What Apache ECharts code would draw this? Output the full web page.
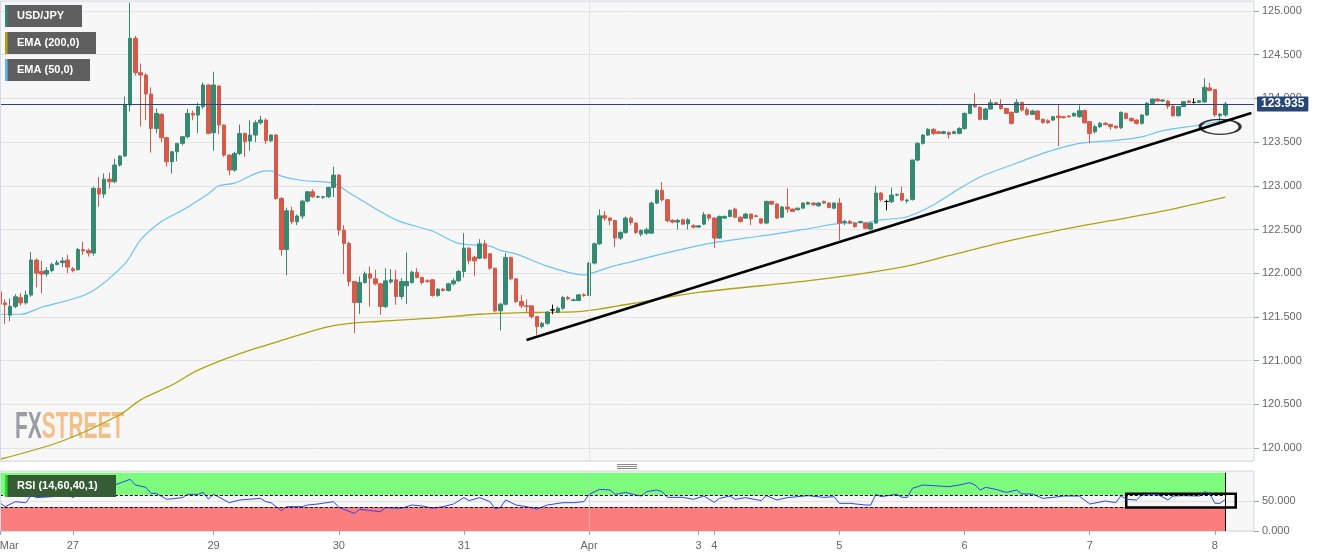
<!DOCTYPE html>
<html><head><meta charset="utf-8">
<script src="https://cdn.jsdelivr.net/npm/echarts@6/dist/echarts.min.js"></script>
<style>html,body{margin:0;padding:0;background:#fff}#c{width:1331px;height:558px}</style>
</head><body><div id="c"></div>
<script>
// Hourly trading sessions (GMT): [date, first hour, last hour]
const sessions = [['03-25',7,20],['03-27',21,23],['03-28',0,23],['03-29',0,23],['03-30',0,23],['03-31',0,23],
  ['04-01',0,20],['04-03',21,23],['04-04',0,23],['04-05',0,23],['04-06',0,23],['04-07',0,23],['04-08',0,2]];
const padCats = ['+1','+2','+3','+4','+5'];
const tickCats = ['03-25 07','03-27 21','03-29 00','03-30 00','03-31 00','04-01 00','04-03 21','04-04 00','04-05 00','04-06 00','04-07 00','04-08 00'];
const tickTexts = ['Mar','27','29','30','31','Apr','3','4','5','6','7','8'];
const priceTicks = [120,120.5,121,121.5,122,122.5,123,123.5,124,124.5,125];
const lastPrice = 123.935;

// [open, close, low, high]
const candles = [
[121.786,121.645,121.63,121.863],[121.66,121.64,121.42,121.70],[121.52,121.62,121.45,121.71],[121.62,121.73,121.60,121.76],
[121.72,121.66,121.63,121.77],[121.66,121.75,121.64,121.80],[121.75,122.15,121.73,122.24],[122.15,122.00,121.84,122.17],
[122.02,121.99,121.77,122.14],[121.99,122.03,121.96,122.07],[122.03,122.10,122.01,122.12],[122.10,122.12,122.09,122.15],
[122.12,122.14,122.07,122.18],[122.15,122.07,122.00,122.21],[122.05,122.03,122.01,122.07],[122.04,122.27,122.03,122.29],
[122.27,122.255,122.21,122.36],[122.26,122.23,122.19,122.28],[122.23,122.97,122.20,122.99],[122.97,122.905,122.76,123.10],
[122.905,123.076,122.86,123.14],[123.076,123.046,122.97,123.15],[123.046,123.237,123.03,123.31],[123.237,123.34,123.22,123.35],
[123.34,123.924,123.33,124.02],[123.924,124.687,123.85,125.095],[124.687,124.294,124.26,124.714],[124.294,124.267,123.676,124.40],
[124.267,124.05,123.75,124.286],[124.05,123.656,123.38,124.126],[123.656,123.828,123.60,123.885],[123.817,123.55,123.50,123.83],
[123.55,123.275,123.22,123.56],[123.275,123.389,123.14,123.40],[123.389,123.485,123.28,123.49],[123.485,123.561,123.46,123.57],
[123.561,123.828,123.54,123.88],[123.828,123.809,123.75,123.86],[123.809,123.905,123.60,123.95],[123.905,124.153,123.88,124.18],
[124.153,123.599,123.59,124.16],[123.607,124.153,123.40,124.305],[124.141,123.695,123.59,124.15],[123.695,123.351,123.33,123.70],
[123.351,123.179,123.12,123.36],[123.179,123.37,123.16,123.39],[123.37,123.599,123.35,123.70],[123.599,123.504,123.33,123.61],
[123.511,123.58,123.40,123.75],[123.58,123.721,123.50,123.75],[123.721,123.752,123.70,123.80],[123.752,123.515,123.48,123.77],
[123.515,123.58,123.50,123.59],[123.58,122.855,122.84,123.59],[122.855,122.271,122.20,122.87],[122.271,122.714,121.977,122.75],
[122.714,122.588,122.56,122.76],[122.588,122.653,122.55,122.67],[122.653,122.824,122.62,122.84],[122.824,122.931,122.81,122.94],
[122.931,122.874,122.86,122.96],[122.870,122.875,122.86,122.89],[122.870,122.874,122.85,122.88],[122.874,122.981,122.86,122.99],
[122.981,123.122,122.87,123.218],[123.122,122.492,122.43,123.13],[122.492,122.34,121.99,122.55],[122.34,121.905,121.85,122.36],
[121.905,121.664,121.313,121.91],[121.664,121.893,121.534,121.962],[121.893,121.992,121.88,122.019],[121.992,121.943,121.618,122.076],
[121.935,121.878,121.86,122.038],[121.878,121.618,121.523,121.89],[121.618,121.912,121.60,122.057],[121.90,121.924,121.88,122.046],
[121.924,121.733,121.637,122.038],[121.733,121.905,121.70,121.943],[121.855,121.905,121.649,122.237],[121.893,122.011,121.88,122.03],
[122.011,121.950,121.94,122.057],[121.950,121.893,121.87,121.96],[121.912,121.905,121.89,121.93],[121.924,121.744,121.73,121.93],
[121.744,121.817,121.73,121.83],[121.817,121.802,121.79,121.83],[121.802,121.878,121.79,121.89],[121.878,121.912,121.86,121.94],
[121.912,122.019,121.90,122.04],[122.019,122.286,121.95,122.458],[122.286,122.141,122.10,122.30],[122.183,122.141,121.969,122.20],
[122.172,122.336,122.16,122.389],[122.336,122.172,122.16,122.382],[122.221,122.057,122.04,122.23],[122.057,121.569,121.55,122.06],
[121.569,121.645,121.344,121.66],[121.645,122.179,121.63,122.229],[122.179,121.935,121.92,122.19],[121.935,121.676,121.66,121.94],
[121.676,121.626,121.60,121.75],[121.626,121.618,121.55,121.70],[121.626,121.504,121.48,121.63],[121.504,121.389,121.294,121.51],
[121.389,121.427,121.37,121.44],[121.427,121.553,121.41,121.57],[121.58,121.58,121.53,121.64],[121.553,121.599,121.54,121.62],
[121.599,121.721,121.58,121.74],[121.721,121.706,121.69,121.74],[121.687,121.695,121.68,121.71],[121.687,121.752,121.68,121.76],
[121.752,121.744,121.73,121.77],[121.744,122.115,121.74,122.13],[122.115,122.336,122.10,122.35],[122.336,122.656,122.32,122.73],
[122.656,122.630,122.60,122.71],[122.630,122.603,122.55,122.64],[122.603,122.401,122.30,122.61],[122.401,122.466,122.38,122.48],
[122.466,122.630,122.45,122.65],[122.630,122.580,122.55,122.65],[122.573,122.466,122.45,122.58],[122.447,122.489,122.42,122.50],
[122.458,122.496,122.44,122.52],[122.458,122.802,122.45,122.82],[122.802,122.947,122.79,122.96],[122.947,122.84,122.82,123.042],
[122.84,122.60,122.58,122.85],[122.603,122.585,122.57,122.62],[122.585,122.603,122.50,122.62],[122.611,122.561,122.55,122.62],
[122.565,122.611,122.50,122.63],[122.542,122.527,122.51,122.56],[122.527,122.542,122.52,122.55],[122.561,122.668,122.55,122.70],
[122.668,122.630,122.60,122.68],[122.630,122.401,122.288,122.64],[122.401,122.649,122.39,122.66],[122.630,122.649,122.62,122.66],
[122.649,122.718,122.64,122.73],[122.733,122.641,122.63,122.75],[122.641,122.592,122.58,122.65],[122.630,122.676,122.62,122.69],
[122.676,122.622,122.55,122.68],[122.656,122.649,122.64,122.67],[122.622,122.573,122.56,122.63],[122.573,122.821,122.56,122.83],
[122.821,122.790,122.78,122.83],[122.790,122.630,122.62,122.80],[122.641,122.756,122.63,122.77],[122.756,122.733,122.69,122.973],
[122.733,122.706,122.70,122.74],[122.725,122.744,122.72,122.75],[122.744,122.802,122.74,122.81],[122.790,122.809,122.78,122.82],
[122.802,122.782,122.77,122.81],[122.771,122.802,122.76,122.81],[122.821,122.802,122.79,122.83],[122.802,122.752,122.74,122.81],
[122.744,122.802,122.73,122.81],[122.802,122.573,122.382,122.859],[122.580,122.592,122.55,122.61],[122.592,122.573,122.56,122.61],
[122.573,122.534,122.52,122.58],[122.580,122.592,122.57,122.60],[122.573,122.515,122.50,122.58],[122.504,122.573,122.49,122.58],
[122.573,122.916,122.56,123.00],[122.916,122.840,122.82,122.93],[122.82,122.82,122.72,122.84],[122.817,122.893,122.80,122.98],
[122.893,122.901,122.88,122.91],[122.912,122.836,122.82,122.99],[122.828,122.836,122.80,122.85],[122.844,123.294,122.83,123.30],
[123.294,123.485,123.28,123.50],[123.485,123.580,123.47,123.59],[123.580,123.645,123.57,123.66],[123.645,123.599,123.58,123.66],
[123.618,123.599,123.59,123.63],[123.599,123.618,123.59,123.63],[123.611,123.588,123.54,123.62],[123.599,123.618,123.59,123.63],
[123.599,123.656,123.59,123.67],[123.656,123.828,123.64,123.84],[123.828,123.924,123.82,123.94],[123.924,123.905,123.89,124.057],
[123.897,123.760,123.75,123.91],[123.760,123.878,123.75,123.89],[123.878,123.950,123.87,123.99],[123.950,123.935,123.92,123.96],
[123.924,123.885,123.87,123.99],[123.885,123.828,123.82,123.89],[123.840,123.714,123.70,123.85],[123.840,123.954,123.83,123.99],
[123.954,123.866,123.85,123.96],[123.870,123.817,123.80,123.90],[123.817,123.855,123.81,123.87],[123.855,123.760,123.75,123.86],
[123.760,123.725,123.71,123.77],[123.744,123.721,123.71,123.76],[123.752,123.790,123.74,123.80],[123.798,123.779,123.454,123.93],
[123.790,123.779,123.77,123.80],[123.798,123.790,123.78,123.81],[123.798,123.828,123.79,123.84],[123.790,123.859,123.78,123.92],
[123.859,123.721,123.71,123.87],[123.733,123.599,123.485,123.74],[123.618,123.676,123.60,123.70],[123.676,123.714,123.66,123.73],
[123.714,123.702,123.69,123.73],[123.702,123.676,123.64,123.71],[123.683,123.664,123.65,123.69],[123.664,123.840,123.65,123.85],
[123.828,123.771,123.76,123.84],[123.771,123.744,123.73,123.78],[123.752,123.714,123.70,123.76],[123.714,123.809,123.70,123.82],
[123.809,123.943,123.80,123.96],[123.943,123.992,123.93,124.00],[123.992,123.969,123.96,124.00],[123.969,123.981,123.96,123.99],
[123.969,123.912,123.88,123.98],[123.912,123.802,123.79,123.92],[123.802,123.905,123.79,123.91],[123.905,123.962,123.90,123.97],
[123.969,123.954,123.95,123.98],[123.954,123.954,123.94,124.00],[123.954,123.973,123.95,123.98],[123.959,124.127,123.95,124.23],
[124.12,124.09,124.08,124.18],[124.10,123.81,123.79,124.11],[123.80,123.82,123.70,123.83],[123.81,123.935,123.79,123.96]
];

// [candle index, value]
const ema50 = [[0,121.53],[4,121.53],[8,121.61],[17,121.77],[24,122.11],[27,122.38],[31,122.59],[35,122.72],[40,122.91],[42,123.0],
[45,123.03],[51,123.17],[52,123.17],[54,123.11],[58,123.06],[64,123.03],[67,122.92],[76,122.61],[83,122.48],[88,122.34],[94,122.31],
[96,122.26],[99,122.22],[105,122.08],[112,121.98],[113,121.99],[117,122.07],[121,122.13],[127,122.22],[132,122.29],[137,122.35],
[143,122.40],[150,122.46],[156,122.52],[161,122.57],[166,122.58],[169,122.61],[174,122.645],[179,122.78],[183,122.93],[188,123.10],
[195,123.26],[201,123.39],[207,123.485],[214,123.52],[219,123.56],[223,123.63],[230,123.695],[235,123.75]];
const ema200 = [[0,119.87],[12,120.08],[23,120.38],[27,120.55],[33,120.72],[38,120.89],[46,121.08],[54,121.23],[64,121.40],[73,121.45],
[83,121.485],[92,121.53],[102,121.55],[111,121.56],[121,121.65],[134,121.78],[156,121.92],[173,122.07],[182,122.20],[192,122.35],
[203,122.49],[213,122.60],[223,122.71],[235,122.87]];
const rsi = [[0,47.2],[1,40.6],[3,48.9],[5,47.2],[6,60],[7,55.6],[10,57.2],[13,61.1],[14,55.6],[15,61.7],[17,61.1],[18,72],[19,73.9],
[21,76.7],[22,76.7],[25,86.1],[26,76.7],[28,72.8],[29,62.8],[30,62.8],[32,52.8],[35,55.6],[36,61.1],[38,61.1],[39,64.4],[40,53.3],
[41,61.1],[44,47.2],[46,51.7],[50,54.4],[51,48.9],[52,47.2],[54,33.9],[55,40.6],[58,40.6],[59,43.3],[61,45],[64,48.9],[65,39.4],
[68,29.4],[69,36.1],[73,32.2],[74,38.9],[77,37.8],[79,43.3],[81,41.7],[83,37.8],[85,40.6],[87,45],[89,55.6],[90,50.6],[92,55.6],
[94,48.9],[95,36.7],[96,39.4],[97,51.7],[99,43.3],[101,40.6],[103,36.7],[105,43.3],[108,47.2],[110,47.2],[112,48.9],[113,61.1],
[115,69.4],[117,68.3],[118,61.1],[120,64.4],[122,60],[123,58.3],[124,65.6],[126,68.3],[127,65.6],[128,56.1],[131,56.1],[133,52.8],
[135,58.3],[137,47.8],[138,54.4],[140,58.3],[141,52.8],[143,55.6],[146,50.6],[147,58.9],[149,51.7],[151,55.6],[155,58.9],[158,56.1],
[160,57.2],[161,46.1],[163,46.1],[166,43.3],[167,43.3],[168,61.1],[169,57.2],[172,61.1],[173,56.1],[174,56.1],[175,71.1],[177,76.7],
[180,75],[182,73.9],[184,76.7],[186,80.6],[187,76.7],[188,68.3],[189,72.8],[191,69.4],[193,64.4],[195,68.3],[196,61.7],[198,61.7],
[200,54.4],[202,56.1],[204,58.3],[207,58.3],[209,45],[212,50],[214,47.2],[215,58.9],[216,52.8],[218,51.7],[219,60],[222,61.1],
[224,51.7],[225,58.3],[227,58.9],[230,58.3],[231,65.6],[232,62.8],[233,46.1],[234,46.1],[235,52.8]];
const trendLine = [[101,121.236],[240,123.832]];
const ellipseMark = [[234,123.675]];
const rsiBox = [216,237,39,62];
const rsiUpper = 60, rsiLower = 40, rsiTop = 97;

const categories = [];
sessions.forEach(([d,h0,h1]) => { for (let h=h0; h<=h1; h++) categories.push(d+' '+String(h).padStart(2,'0')); });
const lastIdx = categories.length - 1;
const allCats = categories.concat(padCats);
const aprIdx = categories.indexOf('04-01 00');

const FONT = '"Liberation Sans", Arial, sans-serif';
const UP = '#368a72', DOWN = '#d6594a';

const chart = echarts.init(document.getElementById('c'), null, {renderer:'canvas'});
const xBase = (gi, showLabels) => ({
  type:'category', gridIndex:gi, data:allCats, boundaryGap:true,
  axisLine:{show:false},
  axisTick:{show:showLabels, alignWithLabel:true, length:4, interval:(i,v)=>tickCats.includes(v), lineStyle:{color:'#9aa3b5'}},
  axisLabel:{show:showLabels, interval:(i,v)=>tickCats.includes(v), formatter:v=>{const k=tickCats.indexOf(v);return k>=0?tickTexts[k]:'';},
    color:'#666', fontSize:11, fontFamily:FONT, margin:9, alignMinLabel:'left'},
  splitLine:{show:false}
});

chart.setOption({
  animation:false,
  backgroundColor:'#ffffff',
  grid:[
    {left:-2.8, right:77, top:1, height:460, show:true, backgroundColor:'#f7f7f7', borderColor:'#d3d9e6', borderWidth:1, outerBoundsMode:'none', containLabel:false},
    {left:-2.8, right:77, top:471, height:60, show:true, backgroundColor:'#f7f7f7', borderColor:'#d3d9e6', borderWidth:1, outerBoundsMode:'none', containLabel:false}
  ],
  xAxis:[xBase(0,false), xBase(1,true)],
  yAxis:[
    {type:'value', gridIndex:0, position:'right', min:119.851, max:125.114, splitNumber:10,
     axisLine:{show:false}, axisTick:{show:true, length:5, lineStyle:{color:'#9aa3b5'}},
     axisLabel:{color:'#666', fontSize:11, fontFamily:FONT, margin:8, showMinLabel:false, showMaxLabel:false,
       formatter:v=>priceTicks.some(t=>Math.abs(t-v)<1e-6)?v.toFixed(3):''},
     splitLine:{lineStyle:{color:'#e3e3e3'}}},
    {type:'value', gridIndex:1, position:'right', min:0, max:100, interval:50,
     axisLine:{show:false}, axisTick:{show:true, length:5, lineStyle:{color:'#9aa3b5'}},
     axisLabel:{color:'#666', fontSize:11, fontFamily:FONT, margin:8, showMaxLabel:false, formatter:v=>v.toFixed(3)},
     splitLine:{lineStyle:{color:'#e3e3e3'}}}
  ],
  series:[
    {type:'candlestick', xAxisIndex:0, yAxisIndex:0, data:candles, barWidth:4, z:3,
     itemStyle:{color:UP, color0:DOWN, borderColor:UP, borderColor0:DOWN, borderColorDoji:'#000', borderWidth:1},
     emphasis:{disabled:true}, silent:true,
     markLine:{silent:true, symbol:'none', animation:false, precision:3,
       data:[
         {xAxis:aprIdx, lineStyle:{color:'#e3e3e3', width:1, type:'solid'}, label:{show:false}},
         {yAxis:lastPrice, lineStyle:{color:'#2a4678', width:1, type:'solid'},
          label:{show:true, position:'end', distance:3, formatter:lastPrice.toFixed(3), color:'#fff', fontWeight:'bold',
                 fontSize:12, fontFamily:FONT, backgroundColor:'#284673', padding:[2,4,1,4], borderRadius:1}}
       ]}},
    {type:'line', xAxisIndex:0, yAxisIndex:0, data:ema200, symbol:'none', smooth:0.3, silent:true, z:2,
     lineStyle:{color:'#b3a10c', width:1.3}},
    {type:'line', xAxisIndex:0, yAxisIndex:0, data:ema50, symbol:'none', smooth:0.3, silent:true, z:2,
     lineStyle:{color:'#6cc3f7', width:1.2}},
    {type:'line', xAxisIndex:0, yAxisIndex:0, data:trendLine, symbol:'none', silent:true, z:5,
     lineStyle:{color:'#000', width:2.6}},
    {type:'scatter', xAxisIndex:0, yAxisIndex:0, data:ellipseMark, symbol:'circle', symbolSize:[40,15], silent:true, z:6,
     itemStyle:{color:'rgba(0,0,0,0)', borderColor:'#000', borderWidth:2}},
    {type:'line', xAxisIndex:1, yAxisIndex:1, data:rsi, symbol:'none', silent:true, z:1,
     lineStyle:{opacity:0},
     markArea:{silent:true, data:[
       [{xAxis:0, yAxis:rsiUpper, itemStyle:{color:'#7dfb7d'}},{xAxis:lastIdx, yAxis:rsiTop}],
       [{xAxis:0, yAxis:0, itemStyle:{color:'#fb7d7d'}},{xAxis:lastIdx, yAxis:rsiLower}]
     ]}},
    {type:'line', xAxisIndex:1, yAxisIndex:1, data:rsi, symbol:'none', silent:true, z:4,
     lineStyle:{color:'#2c45f5', width:1},
     markLine:{silent:true, symbol:'none', label:{show:false}, data:[
       [{coord:[0,rsiUpper], lineStyle:{color:'#000', width:1, type:[3,2]}},{coord:[lastIdx,rsiUpper]}],
       [{coord:[0,rsiLower], lineStyle:{color:'#000', width:1, type:[3,2]}},{coord:[lastIdx,rsiLower]}],
       [{coord:[lastIdx,0], lineStyle:{color:'#000', width:1, type:'solid'}},{coord:[lastIdx,rsiTop]}],
       [{coord:[aprIdx,0], lineStyle:{color:'rgba(200,200,200,0.6)', width:1, type:'solid'}},{coord:[aprIdx,100]}]
     ]},
     markArea:{silent:true, data:[
       [{xAxis:rsiBox[0], yAxis:rsiBox[3], itemStyle:{color:'rgba(0,0,0,0)', borderColor:'#000', borderWidth:2.5}},{xAxis:rsiBox[1], yAxis:rsiBox[2]}]
     ]}}
  ],
  graphic:[
    {type:'text', x:15, y:428, z:1, scaleX:0.565, scaleY:1, silent:true,
     style:{text:'{a|FX}{b|STREET}', font:'bold 37px '+FONT, verticalAlign:'middle',
       rich:{a:{fill:'#9a9ca4', font:'bold 37px '+FONT}, b:{fill:'#f2c088', font:'bold 37px '+FONT}}}},
    {type:'line', shape:{x1:0.5,y1:1,x2:0.5,y2:461}, style:{stroke:'#d3d9e6', lineWidth:1}, z:100, silent:true},
    {type:'line', shape:{x1:0.5,y1:471,x2:0.5,y2:531}, style:{stroke:'#d3d9e6', lineWidth:1}, z:100, silent:true},
    {type:'rect', shape:{x:5,y:5,width:77,height:22}, style:{fill:'#5f5f5f'}, z:100, silent:true},
    {type:'rect', shape:{x:5,y:5,width:2.6,height:22}, style:{fill:'#2f8a74'}, z:101, silent:true},
    {type:'text', x:17, y:16, z:102, silent:true, style:{text:'USD/JPY', fill:'#fff', font:'bold 11px '+FONT, verticalAlign:'middle'}},
    {type:'rect', shape:{x:5,y:32,width:91,height:22}, style:{fill:'#5f5f5f'}, z:100, silent:true},
    {type:'rect', shape:{x:5,y:32,width:2.6,height:22}, style:{fill:'#b3a10c'}, z:101, silent:true},
    {type:'text', x:17, y:43, z:102, silent:true, style:{text:'EMA (200,0)', fill:'#fff', font:'bold 11px '+FONT, verticalAlign:'middle'}},
    {type:'rect', shape:{x:5,y:59,width:85,height:22}, style:{fill:'#5f5f5f'}, z:100, silent:true},
    {type:'rect', shape:{x:5,y:59,width:2.6,height:22}, style:{fill:'#5ab8f5'}, z:101, silent:true},
    {type:'text', x:17, y:70, z:102, silent:true, style:{text:'EMA (50,0)', fill:'#fff', font:'bold 11px '+FONT, verticalAlign:'middle'}},
    {type:'rect', shape:{x:5,y:475,width:111,height:22}, style:{fill:'#365c36'}, z:100, silent:true},
    {type:'rect', shape:{x:5,y:475,width:2.6,height:22}, style:{fill:'#1ee01e'}, z:101, silent:true},
    {type:'text', x:17, y:486, z:102, silent:true, style:{text:'RSI (14,60,40,1)', fill:'#fff', font:'bold 11px '+FONT, verticalAlign:'middle'}},
    {type:'line', shape:{x1:617,y1:464.5,x2:637,y2:464.5}, style:{stroke:'#8a8a8a', lineWidth:1}, z:100, silent:true},
    {type:'line', shape:{x1:617,y1:466.5,x2:637,y2:466.5}, style:{stroke:'#8a8a8a', lineWidth:1}, z:100, silent:true},
    {type:'line', shape:{x1:617,y1:468.5,x2:637,y2:468.5}, style:{stroke:'#8a8a8a', lineWidth:1}, z:100, silent:true}
  ]
});
</script></body></html>
